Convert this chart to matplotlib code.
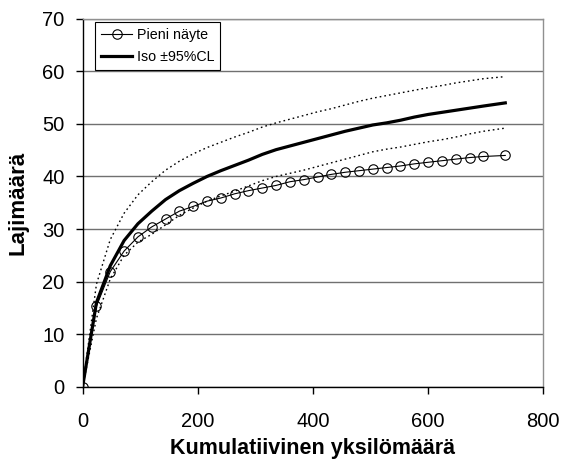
import matplotlib
matplotlib.use("Agg")
import matplotlib.pyplot as plt

plt.rcParams['font.family'] = ['Liberation Sans', 'DejaVu Sans']

# Data
x_vals = [0, 24, 48, 72, 96, 120, 144, 168, 192, 216, 240, 264, 288, 312, 336,
          360, 384, 408, 432, 456, 480, 504, 528, 552, 576, 600, 624, 648, 672, 696, 734]
pieni = [0, 15.3, 21.9, 25.8, 28.5, 30.4, 31.9, 33.4, 34.3, 35.3, 35.9, 36.7, 37.3,
         37.8, 38.3, 39.0, 39.4, 39.9, 40.4, 40.8, 41.1, 41.4, 41.7, 42.0, 42.4, 42.7,
         43.0, 43.3, 43.6, 43.8, 44.0]
iso = [0, 16.0, 23.0, 27.8, 31.0, 33.4, 35.6, 37.3, 38.7, 40.0, 41.1, 42.1, 43.1,
       44.2, 45.1, 45.8, 46.5, 47.2, 47.9, 48.6, 49.2, 49.8, 50.2, 50.7, 51.3, 51.8,
       52.2, 52.6, 53.0, 53.4, 54.0]
iso_upper = [0, 19.5, 28.0, 33.0, 36.5, 39.0, 41.2, 42.9, 44.3, 45.5, 46.5, 47.5, 48.4,
             49.4, 50.2, 50.9, 51.6, 52.3, 52.9, 53.6, 54.3, 54.9, 55.4, 55.9, 56.4,
             56.9, 57.3, 57.8, 58.2, 58.6, 59.0]
iso_lower = [0, 13.0, 20.5, 25.0, 27.5, 29.0, 30.8, 32.6, 34.0, 35.3, 36.3, 37.2, 38.2,
             39.2, 40.0, 40.6, 41.2, 41.9, 42.6, 43.3, 44.0, 44.7, 45.2, 45.6, 46.1,
             46.6, 47.0, 47.5, 48.1, 48.6, 49.2]

x_ticks = [0, 200, 400, 600, 800]
y_ticks = [0, 10, 20, 30, 40, 50, 60, 70]
x_label = "Kumulatiivinen yksilömäärä"
y_label = "Lajimäärä"
legend_labels = ["Pieni näyte", "Iso ±95%CL"]

fig = plt.figure(figsize=(5.62, 4.62), dpi=100)
ax = fig.add_axes([0.147, 0.163, 0.8197, 0.7963])

ax.plot(x_vals, iso_upper, color='black', linestyle=(0, (1.2, 2.2)), linewidth=1.0, zorder=3)
ax.plot(x_vals, iso_lower, color='black', linestyle=(0, (1.2, 2.2)), linewidth=1.0, zorder=3)
ax.plot(x_vals, pieni, color='black', linewidth=0.8, marker='o', markersize=6.8,
        markerfacecolor='none', markeredgecolor='black', markeredgewidth=0.8,
        label=legend_labels[0], zorder=4)
ax.plot(x_vals, iso, color='black', linewidth=2.3, label=legend_labels[1], zorder=5)

ax.set_xlim(0, 800)
ax.set_ylim(0, 70)
ax.set_xticks(x_ticks)
ax.set_yticks(y_ticks)
ax.yaxis.grid(True, color='#707070', linewidth=1.0)
ax.set_axisbelow(True)

for s in ['left', 'bottom']:
    ax.spines[s].set_color('black')
    ax.spines[s].set_linewidth(1.0)
for s in ['top', 'right']:
    ax.spines[s].set_color('#909090')
    ax.spines[s].set_linewidth(1.0)

ax.tick_params(axis='both', direction='out', length=5, width=1, labelsize=14.5, color='black')
ax.tick_params(axis='y', pad=8)
ax.tick_params(axis='x', pad=13)

ax.set_xlabel(x_label, fontsize=15.5, fontweight='bold', labelpad=5)
ax.set_ylabel(y_label, fontsize=16, fontweight='bold', labelpad=10)

leg = ax.legend(loc='upper left', bbox_to_anchor=(0.027, 0.99), fontsize=10.3,
                frameon=True, fancybox=False, edgecolor='black', framealpha=1,
                handlelength=2.2, handletextpad=0.3, borderpad=0.4, labelspacing=0.55,
                borderaxespad=0)
leg.get_frame().set_linewidth(0.8)

fig.savefig("out.png", dpi=100)
